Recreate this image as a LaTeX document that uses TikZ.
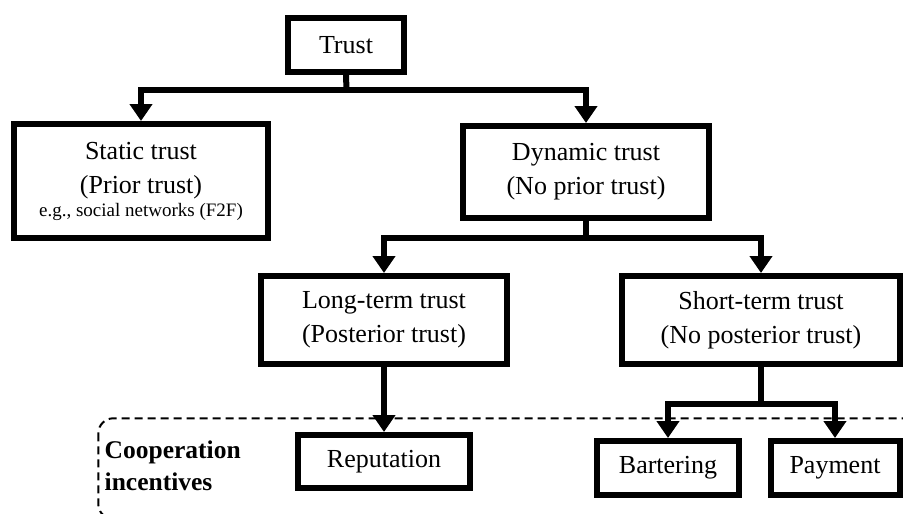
\documentclass[tikz,border=0pt]{standalone}
\usepackage{fontspec}
\setmainfont{Liberation Serif}
\usetikzlibrary{arrows.meta}
\begin{document}
\begin{tikzpicture}[x=1pt,y=-1pt,
  box/.style={draw, line width=6pt, inner sep=0pt, align=center,
              font=\fontsize{26}{34}\selectfont},
  conn/.style={line width=6pt},
  arr/.style={conn, -{Triangle[width=22pt,length=17pt]}},
  twoarr/.style={conn, {Triangle[width=22pt,length=17pt]}-{Triangle[width=22pt,length=17pt]}},
  group/.style={line width=2pt, dash pattern=on 8pt off 5pt, rounded corners=15pt},
  grouplabel/.style={inner sep=0pt, align=left, font=\bfseries\fontsize{25.5}{32.5}\selectfont}
]
\useasboundingbox (0,0) rectangle (903,514);
\clip (0,0) rectangle (903,514);

% dashed frame of the cooperation incentives
\draw[group] (98.3,418.3) rectangle (960,519);
\node[grouplabel, anchor=west] (coop) at (104.5,466) {Cooperation\\incentives};

% boxes
\node[box, minimum width=116pt, minimum height=54pt] (trust) at (346,45) {Trust};
\node[box, minimum width=254pt, minimum height=114pt] (static) at (141,181)
  {Static trust\\(Prior trust)\\[-11pt]{\fontsize{19}{23}\selectfont e.g., social networks (F2F)}};
\node[box, minimum width=246pt, minimum height=92pt] (dyn) at (586,172)
  {Dynamic trust\\(No prior trust)};
\node[box, minimum width=246pt, minimum height=88pt] (long) at (384,320)
  {Long-term trust\\(Posterior trust)};
\node[box, minimum width=278pt, minimum height=88pt] (short) at (761,320)
  {Short-term trust\\(No posterior trust)};
\node[box, minimum width=172pt, minimum height=53pt] (rep) at (384,461.5) {Reputation};
\node[box, minimum width=142pt, minimum height=54pt] (bart) at (668,468) {Bartering};
\node[box, minimum width=129pt, minimum height=54pt] (pay) at (835,468) {Payment};

% junctions
\coordinate (j1) at (346.5,89.7);
\coordinate (j2) at (586,237.7);
\coordinate (j3) at (761,403.7);

% connectors
\draw[conn] (trust.south) -- (j1);
\draw[twoarr] (static.north) |- (j1) -| (dyn.north);
\draw[conn] (dyn.south) -- (j2);
\draw[twoarr] (long.north) |- (j2) -| (short.north);
\draw[arr] (long.south) -- (rep.north);
\draw[conn] (short.south) -- (j3);
\draw[twoarr] (bart.north) |- (j3) -| (pay.north);
\end{tikzpicture}
\end{document}
